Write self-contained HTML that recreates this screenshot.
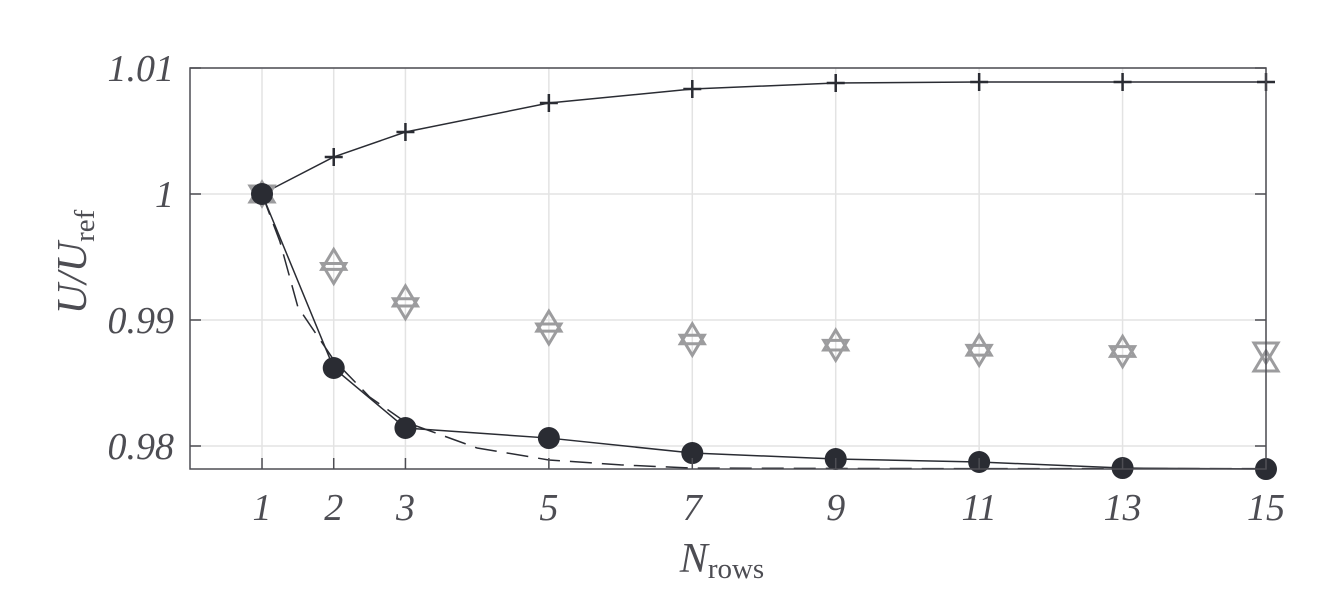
<!DOCTYPE html>
<html><head><meta charset="utf-8"><style>
body{margin:0;background:#fff}
svg text{font-family:"Liberation Serif","Times New Roman",serif;font-style:italic;fill:#4d4d53}
</style></head><body>
<svg id="chart" width="1324" height="602" xmlns="http://www.w3.org/2000/svg">
<g id="grid"></g>
<g id="series"></g>
<rect x="190" y="68" width="1076" height="401" fill="none" stroke="#4d4d53" stroke-width="1.5"/>
<g id="ticks"></g>
<text transform="translate(86,262) rotate(-90)" text-anchor="middle" font-size="42">U/U<tspan font-style="normal" font-size="29" dy="8">ref</tspan></text>
<text x="722" y="572" text-anchor="middle" font-size="42">N<tspan font-style="normal" font-size="29" dy="6">rows</tspan></text>
</svg>
<script>
const xTicks=[1,2,3,5,7,9,11,13,15];
const yTicks=[0.98,0.99,1,1.01];
const yTickLabels=["0.98","0.99","1","1.01"];
const plusVals=[1.0,1.00294,1.00492,1.00722,1.00833,1.00881,1.00889,1.00889,1.00889];
const circleVals=[1.0,0.98619,0.98143,0.98063,0.97944,0.97897,0.97873,0.97825,0.97817];
const triUpVals=[1.0,0.99465,0.99175,0.98975,0.98875,0.98825,0.98785,0.98775,0.98659];
const triDownVals=[1.0,0.99385,0.99105,0.98905,0.98815,0.98775,0.98735,0.98725,0.98754];
const dashX=[1,1.25,1.5,2,2.5,3,4,5,6,7,9,11,13,15];
const dashVals=[1.0,0.99622,0.99103,0.98683,0.98389,0.9819,0.97984,0.97889,0.9785,0.97825,0.97822,0.9782,0.9782,0.9782];
const X=v=>190.3+(v/15)*(1266-190.3);
const Y=v=>194-(v-1)*12600;
const NS="http://www.w3.org/2000/svg";
function mk(parent,tag,attrs){const e=document.createElementNS(NS,tag);for(const k in attrs)e.setAttribute(k,attrs[k]);parent.appendChild(e);return e;}
const grid=document.getElementById('grid'),ticks=document.getElementById('ticks'),ser=document.getElementById('series');
xTicks.forEach(t=>{
  const g=mk(grid,'line',{x1:X(t),x2:X(t),y1:68,y2:469,stroke:'#e3e3e3','stroke-width':1.5});
  
  
  const tk=mk(ticks,'line',{x1:X(t),x2:X(t),y1:469,y2:458,stroke:'#4d4d53','stroke-width':1.5});
  
  
  const tx=mk(ticks,'text',{x:X(t),y:520,'text-anchor':'middle','font-size':38});
  tx.textContent=t;
  
  
});
yTicks.forEach((t,i)=>{
  const g=mk(grid,'line',{x1:190,x2:1266,y1:Y(t),y2:Y(t),stroke:'#e3e3e3','stroke-width':1.5});
  
  
  [[190,201],[1255,1266]].forEach(p=>{
    const tk=mk(ticks,'line',{x1:p[0],x2:p[1],y1:Y(t),y2:Y(t),stroke:'#4d4d53','stroke-width':1.5});
    
    
  });
  const tx=mk(ticks,'text',{x:174,y:Y(t)+13,'text-anchor':'end','font-size':38});
  tx.textContent=yTickLabels[i];
  
  
});
const dl=mk(ser,'polyline',{points:dashX.map((x,i)=>X(x)+','+Y(dashVals[i])).join(' '),fill:'none',stroke:'#2a2c33','stroke-width':1.5,'stroke-dasharray':'22,10'});


const pl=mk(ser,'polyline',{points:xTicks.map((x,i)=>X(x)+','+Y(plusVals[i])).join(' '),fill:'none',stroke:'#2a2c33','stroke-width':1.5});


const cl=mk(ser,'polyline',{points:xTicks.map((x,i)=>X(x)+','+Y(circleVals[i])).join(' '),fill:'none',stroke:'#2a2c33','stroke-width':1.5});


xTicks.forEach((x,i)=>{
  const cx=X(x);
  let y=Y(triUpVals[i]);
  const up=mk(ser,'polygon',{points:`${cx},${y-12} ${cx-12},${y+8} ${cx+12},${y+8}`,fill:'none',stroke:'#9c9c9e','stroke-width':3});
  
  
  y=Y(triDownVals[i]);
  const dn=mk(ser,'polygon',{points:`${cx},${y+12} ${cx-12},${y-8} ${cx+12},${y-8}`,fill:'none',stroke:'#9c9c9e','stroke-width':3});
  
  
});
xTicks.forEach((x,i)=>{
  const cx=X(x),y=Y(plusVals[i]);
  const p=mk(ser,'path',{d:`M${cx-9},${y}H${cx+9}M${cx},${y-9}V${y+9}`,stroke:'#2a2c33','stroke-width':2.5});
  
  
  const c=mk(ser,'circle',{cx:cx,cy:Y(circleVals[i]),r:11,fill:'#2a2c33'});
  
  
});
</script>
</body></html>
